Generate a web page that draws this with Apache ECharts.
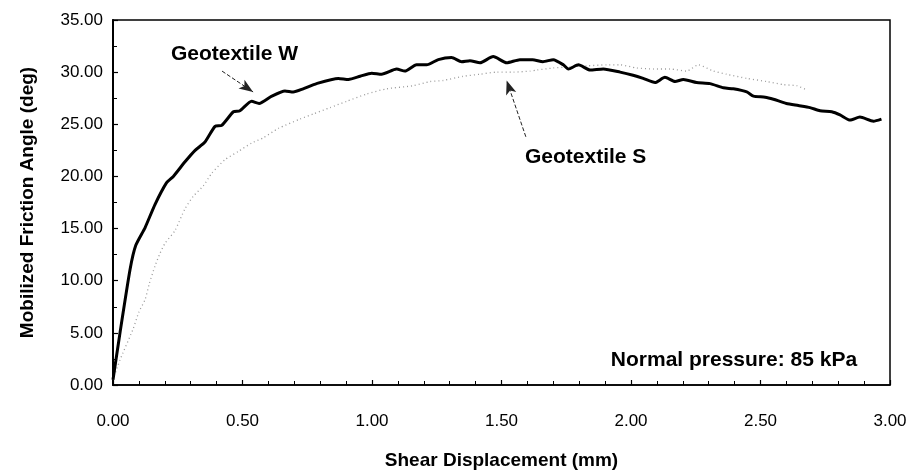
<!DOCTYPE html>
<html>
<head>
<meta charset="utf-8">
<script src="https://cdn.jsdelivr.net/npm/echarts@6/dist/echarts.min.js"></script>
<style>
  html, body { margin: 0; padding: 0; background: #fff; }
  #chart { width: 912px; height: 475px; }
</style>
</head>
<body>
<div id="chart"></div>
<script>
// Geotextile W: shear displacement (mm) and mobilized friction angle (deg)
const wDisp = [0, 0.027, 0.066, 0.088, 0.124, 0.162, 0.207, 0.233, 0.278, 0.317, 0.355, 0.394, 0.42, 0.465, 0.49,
  0.535, 0.564, 0.613, 0.664, 0.696, 0.734, 0.786, 0.87, 0.909, 0.954, 0.999, 1.037, 1.095, 1.127, 1.172, 1.211,
  1.256, 1.307, 1.346, 1.378, 1.417, 1.468, 1.52, 1.571, 1.62, 1.66, 1.70, 1.739, 1.758, 1.797, 1.842, 1.893,
  1.958, 2.008, 2.047, 2.093, 2.131, 2.17, 2.202, 2.253, 2.305, 2.357, 2.395, 2.447, 2.473, 2.518, 2.55, 2.60,
  2.646, 2.691, 2.73, 2.775, 2.807, 2.846, 2.884, 2.936, 2.967];
const wAngle = [0.5, 5.0, 11.1, 13.4, 15.1, 17.3, 19.4, 20.0, 21.4, 22.5, 23.3, 24.8, 24.9, 26.2, 26.3,
  27.2, 27.0, 27.7, 28.2, 28.1, 28.4, 28.9, 29.4, 29.3, 29.6, 29.9, 29.8, 30.3, 30.1, 30.7, 30.7,
  31.2, 31.4, 31.0, 31.1, 30.9, 31.5, 30.9, 31.2, 31.2, 31.0, 31.2, 30.7, 30.3, 30.7, 30.2, 30.3,
  30.0, 29.7, 29.4, 29.0, 29.5, 29.1, 29.3, 29.0, 28.9, 28.5, 28.4, 28.1, 27.7, 27.6, 27.4, 27.0,
  26.8, 26.6, 26.3, 26.2, 25.9, 25.4, 25.7, 25.3, 25.5];

// Geotextile S
const sDisp = [0, 0.027, 0.078, 0.1, 0.124, 0.14, 0.162, 0.181, 0.201, 0.239, 0.278, 0.31, 0.349, 0.381, 0.432,
  0.484, 0.535, 0.58, 0.638, 0.722, 0.774, 0.838, 0.902, 0.979, 1.056, 1.159, 1.224, 1.275, 1.352, 1.417,
  1.481, 1.546, 1.61, 1.636, 1.70, 1.765, 1.829, 1.906, 1.958, 2.022, 2.086, 2.151, 2.215, 2.26, 2.318,
  2.369, 2.447, 2.524, 2.588, 2.64, 2.678];
const sAngle = [0.5, 2.4, 5.4, 7.0, 8.2, 9.7, 11.4, 12.6, 13.6, 14.8, 16.9, 18.1, 19.1, 20.3, 21.6,
  22.4, 23.2, 23.7, 24.6, 25.5, 26.0, 26.6, 27.2, 27.9, 28.4, 28.7, 29.1, 29.2, 29.6, 29.8,
  30.0, 30.0, 30.1, 30.2, 30.4, 30.5, 30.6, 30.7, 30.7, 30.4, 30.3, 30.3, 30.1, 30.7, 30.1,
  29.8, 29.4, 29.1, 28.8, 28.7, 28.3];

// Axis ticks
const xTicks = [0, 0.5, 1.0, 1.5, 2.0, 2.5, 3.0];
const yTicks = [0, 5, 10, 15, 20, 25, 30, 35];

const zip = (xs, ys) => xs.map((x, i) => [x, ys[i]]);

const FONT = '"Liberation Sans", Arial, Helvetica, sans-serif';

const chart = echarts.init(document.getElementById('chart'), null, { renderer: 'canvas' });

const arrowStyle = { color: '#222', width: 1, type: [4, 2] };
const noteLabel = { show: true, fontFamily: FONT, fontWeight: 'bold', fontSize: 21, color: '#000',
  formatter: p => p.name };

chart.setOption({
  animation: false,
  backgroundColor: '#fff',
  grid: {
    left: 113, right: 22, top: 20, bottom: 85,
    show: true, borderColor: '#000', borderWidth: 1.5, backgroundColor: 'transparent'
  },
  xAxis: {
    type: 'value',
    min: xTicks[0], max: xTicks[xTicks.length - 1], interval: 0.5,
    name: 'Shear Displacement (mm)',
    nameLocation: 'middle', nameGap: 66,
    nameTextStyle: { fontFamily: FONT, fontWeight: 'bold', fontSize: 19, color: '#000' },
    axisLine: { show: true, lineStyle: { color: '#000', width: 1.5 } },
    axisTick: { show: true, inside: true, length: 5, lineStyle: { color: '#000', width: 1.2 } },
    minorTick: { show: true, splitNumber: 5, length: 4, lineStyle: { color: '#000', width: 1 } },
    splitLine: { show: false },
    axisLabel: { fontFamily: FONT, fontSize: 17, color: '#000', margin: 28,
      formatter: v => v.toFixed(2) }
  },
  yAxis: {
    type: 'value',
    min: yTicks[0], max: yTicks[yTicks.length - 1], interval: 5,
    name: 'Mobilized Friction Angle (deg)',
    nameLocation: 'middle', nameGap: 76,
    nameTextStyle: { fontFamily: FONT, fontWeight: 'bold', fontSize: 19, color: '#000' },
    axisLine: { show: true, lineStyle: { color: '#000', width: 2 } },
    axisTick: { show: true, inside: true, length: 5, lineStyle: { color: '#000', width: 1.2 } },
    minorTick: { show: true, splitNumber: 2, length: 4, lineStyle: { color: '#000', width: 1 } },
    splitLine: { show: false },
    axisLabel: { fontFamily: FONT, fontSize: 17, color: '#000', margin: 10,
      formatter: v => v.toFixed(2) }
  },
  series: [
    {
      name: 'Geotextile S',
      type: 'line',
      data: zip(sDisp, sAngle),
      showSymbol: false,
      smooth: 0.2,
      lineStyle: { color: '#9a9a9a', width: 1.3, type: [1, 3] },
      z: 2,
      markLine: {
        silent: true,
        symbol: ['none', 'arrow'], symbolSize: [8, 14],
        label: { show: false },
        lineStyle: arrowStyle,
        data: [[{ coord: [1.594, 23.8] }, { coord: [1.52, 29.2] }]]
      },
      markPoint: {
        silent: true,
        symbol: 'circle', symbolSize: 0,
        label: noteLabel,
        data: [
          { name: 'Geotextile S', coord: [1.825, 21.8] },
          { name: 'Normal pressure: 85 kPa', coord: [2.873, 2.37],
            label: Object.assign({}, noteLabel, { position: 'inside', align: 'right' }) }
        ]
      }
    },
    {
      name: 'Geotextile W',
      type: 'line',
      data: zip(wDisp, wAngle),
      showSymbol: false,
      smooth: 0.2,
      lineStyle: { color: '#000', width: 3 },
      z: 3,
      markLine: {
        silent: true,
        symbol: ['none', 'arrow'], symbolSize: [8, 14],
        label: { show: false },
        lineStyle: arrowStyle,
        data: [[{ coord: [0.421, 30.1] }, { coord: [0.541, 28.1] }]]
      },
      markPoint: {
        silent: true,
        symbol: 'circle', symbolSize: 0,
        label: noteLabel,
        data: [{ name: 'Geotextile W', coord: [0.469, 31.7] }]
      }
    }
  ]
});
</script>
</body>
</html>
